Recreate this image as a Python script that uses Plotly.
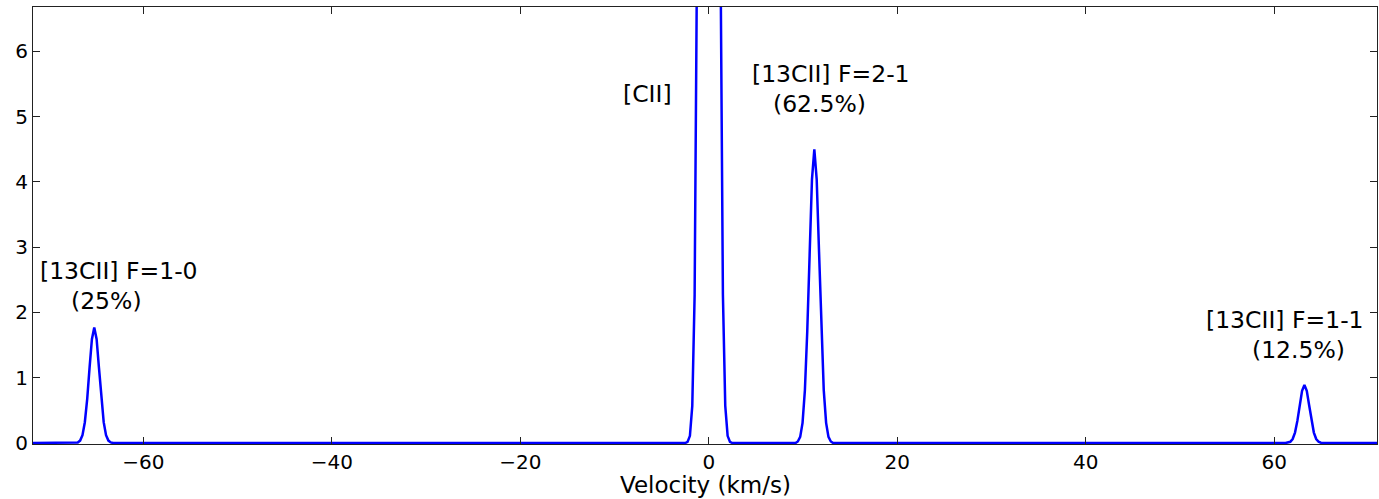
import plotly.graph_objects as go

# Velocity channels (km/s) and intensities for each line
v_start = [-71.7]
t_start = [0.0]

v_f10 = [-67.2, -66.95, -66.7, -66.45, -66.2, -65.95, -65.7, -65.45, -65.2,
         -64.95, -64.7, -64.45, -64.2, -63.95, -63.7, -63.45, -63.2]
t_f10 = [0.0, 0.009, 0.037, 0.121, 0.319, 0.674, 1.152, 1.590, 1.77,
         1.590, 1.152, 0.674, 0.319, 0.121, 0.037, 0.009, 0.0]

v_cii = [-2.5, -2.25, -2.0, -1.75, -1.5, -1.25, -1.0, -0.75, -0.5, -0.25, 0.0,
         0.25, 0.5, 0.75, 1.0, 1.25, 1.5, 1.75, 2.0, 2.25, 2.5]
t_cii = [0.0, 0.018, 0.11, 0.57, 2.27, 7.4, 19.4, 41.1, 70.3, 97.0, 108.0,
         97.0, 70.3, 41.1, 19.4, 7.4, 2.27, 0.57, 0.11, 0.018, 0.0]

v_f21 = [9.2, 9.45, 9.7, 9.95, 10.2, 10.45, 10.7, 10.95, 11.2,
         11.45, 11.7, 11.95, 12.2, 12.45, 12.7, 12.95, 13.2]
t_f21 = [0.0, 0.024, 0.094, 0.309, 0.811, 1.713, 2.93, 4.04, 4.5,
         4.04, 2.93, 1.713, 0.811, 0.309, 0.094, 0.024, 0.0]

v_f11 = [61.2, 61.45, 61.7, 61.95, 62.2, 62.45, 62.7, 62.95, 63.2,
         63.45, 63.7, 63.95, 64.2, 64.45, 64.7, 64.95, 65.2]
t_f11 = [0.0, 0.005, 0.019, 0.061, 0.160, 0.339, 0.579, 0.799, 0.89,
         0.799, 0.579, 0.339, 0.160, 0.061, 0.019, 0.005, 0.0]

v_end = [70.9]
t_end = [0.0]

velocity = v_start + v_f10 + v_cii + v_f21 + v_f11 + v_end
intensity = t_start + t_f10 + t_cii + t_f21 + t_f11 + t_end

x_ticks = [-60, -40, -20, 0, 20, 40, 60]
x_tick_labels = ["\u221260", "\u221240", "\u221220", "0", "20", "40", "60"]
y_ticks = [0, 1, 2, 3, 4, 5, 6]
x_title = "Velocity (km/s)"

label_text = ["[13CII] F=1-0", "(25%)", "[CII]", "[13CII] F=2-1", "(62.5%)",
              "[13CII] F=1-1", "(12.5%)"]
label_x = [-62.6, -63.9, -6.5, 13.0, 11.8, 61.1, 62.6]
label_y = [2.64, 2.18, 5.35, 5.66, 5.20, 1.88, 1.42]

font_family = "DejaVu Sans"

fig = go.Figure()
fig.add_trace(go.Scatter(
    x=velocity, y=intensity, mode="lines",
    line=dict(color="#0000ff", width=2.5),
    showlegend=False, hoverinfo="skip",
))

for txt, lx, ly in zip(label_text, label_x, label_y):
    fig.add_annotation(x=lx, y=ly, xref="x", yref="y", text=txt,
                       showarrow=False, xanchor="center", yanchor="middle",
                       font=dict(family=font_family, size=23.5, color="#000000"))

# x-axis title placed just below the tick labels
fig.add_annotation(x=0.5, y=0.0, xref="paper", yref="paper", text=x_title,
                   showarrow=False, xanchor="center", yanchor="bottom",
                   yshift=-55, borderpad=0,
                   font=dict(family=font_family, size=23, color="#000000"))

axis_common = dict(
    showgrid=False, zeroline=False, showline=True, linecolor="#222222",
    linewidth=1, mirror="ticks", ticks="inside", ticklen=7, tickwidth=1,
    tickcolor="#222222",
    tickfont=dict(family=font_family, size=20, color="#000000"),
)

fig.update_xaxes(
    range=[-71.7, 70.9], tickmode="array", tickvals=x_ticks,
    ticktext=x_tick_labels,
    **axis_common,
)
fig.update_yaxes(range=[-0.015, 6.68], tickmode="array", tickvals=y_ticks,
                 **axis_common)

fig.update_layout(
    width=1379, height=499,
    margin=dict(l=33, r=2, t=7, b=55),
    plot_bgcolor="#ffffff", paper_bgcolor="#ffffff",
)

fig.write_html("out.html")
